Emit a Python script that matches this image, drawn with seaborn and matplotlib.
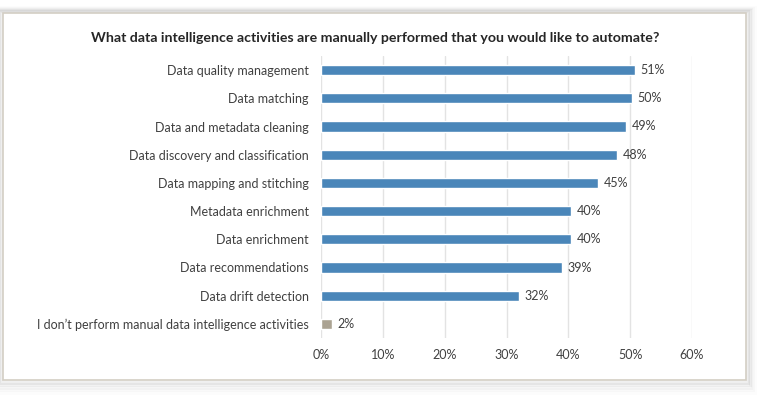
import matplotlib
matplotlib.use("Agg")
import matplotlib.pyplot as plt
import matplotlib.patches as mpatches
import matplotlib.ticker as mtick
import seaborn as sns
import pandas as pd

activities = [
    "Data quality management",
    "Data matching",
    "Data and metadata cleaning",
    "Data discovery and classification",
    "Data mapping and stitching",
    "Metadata enrichment",
    "Data enrichment",
    "Data recommendations",
    "Data drift detection",
    "I don\u2019t perform manual data intelligence activities",
]
share = [50.8, 50.3, 49.4, 47.9, 44.8, 40.4, 40.4, 39.0, 32.0, 1.8]
bar_colors = ["#4a86b9"] * 9 + ["#aba392"]

df = pd.DataFrame({"activity": activities, "share": share})

sns.set_theme(style="white")
plt.rcParams["font.family"] = ["Lato", "DejaVu Sans"]

fig = plt.figure(figsize=(7.68, 3.95), dpi=100)
fig.patch.set_facecolor("white")

# frame with soft shadow
x0, y0, w, h = 3 / 768, 1 - 380 / 395, 743 / 768, 367 / 395
for i, a in enumerate([0.06, 0.045, 0.03, 0.02, 0.01]):
    d = (i + 1) * 1.8
    fig.patches.append(mpatches.Rectangle(
        (x0 - d / 768, y0 - 1.4 * d / 395), w + 2 * d / 768, h + 2 * d / 395,
        transform=fig.transFigure, facecolor="none",
        edgecolor=(0, 0, 0, a), linewidth=3, zorder=0))
fig.patches.append(mpatches.Rectangle(
    (x0, y0), w, h, transform=fig.transFigure, facecolor="white",
    edgecolor="#d3cec4", linewidth=1.2, zorder=1))

ax = fig.add_axes([321 / 768, 1 - 338 / 395, 371 / 768, 282 / 395])
ax.set_zorder(5)
ax.set_facecolor("none")
sns.barplot(data=df, x="share", y="activity", hue="activity",
            palette=bar_colors, legend=False, width=0.36, ax=ax,
            saturation=1, zorder=3)

for i, v in enumerate(share):
    ax.text(v + 0.9, i, f"{v:.0f}%", va="center", ha="left",
            fontsize=9, color="#404040")

ax.set_xlim(0, 60)
ax.set_ylim(9.5, -0.5)
ax.xaxis.set_major_locator(mtick.MultipleLocator(10))
ax.xaxis.set_major_formatter(mtick.PercentFormatter(decimals=0))
ax.grid(axis="x", color="#e3e3e3", linewidth=1, zorder=0)
ax.set_axisbelow(True)
for s in ax.spines.values():
    s.set_visible(False)
ax.set_xlabel("")
ax.set_ylabel("")
ax.tick_params(axis="both", length=0, labelsize=9, colors="#404040")
ax.tick_params(axis="y", pad=9)
ax.tick_params(axis="x", pad=8)

fig.text(375 / 768, 1 - 38 / 395,
         "What data intelligence activities are manually performed that you would like to automate?",
         ha="center", va="center", fontsize=10.2, fontweight="bold", color="#262626",
         zorder=6)

fig.savefig("out.png", dpi=100)
